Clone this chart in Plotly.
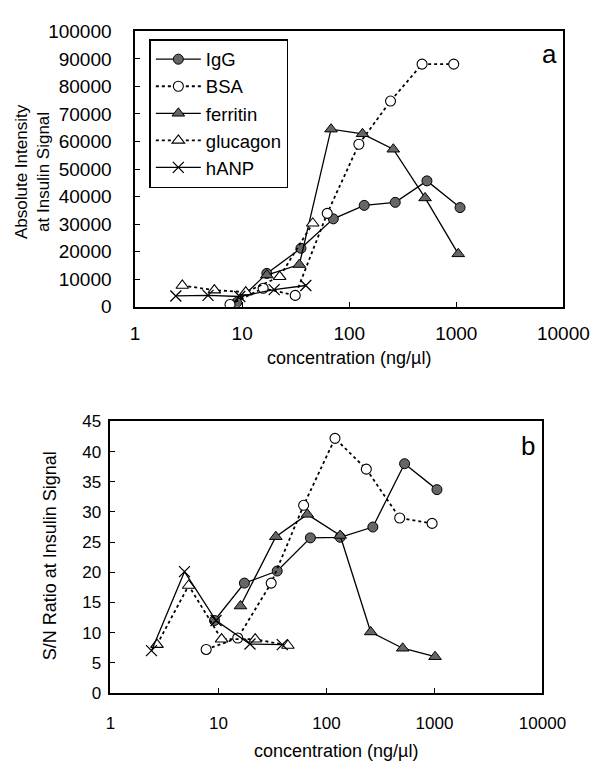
import plotly.graph_objects as go

# ---------------- data ----------------
# panel a: absolute intensity at insulin signal
igg_conc_a = [8.9, 17, 35.4, 71, 138, 269, 532, 1084]
igg_int_a = [1500, 12100, 21200, 31900, 36800, 37900, 45700, 36000]
bsa_conc_a = [7.7, 15.7, 31.3, 62.3, 123, 243, 479, 946]
bsa_int_a = [800, 6700, 4100, 33900, 59000, 74700, 88100, 88100]
fer_conc_a = [17, 34.2, 67.6, 133, 258, 511, 1043]
fer_int_a = [11500, 15300, 64500, 62800, 57200, 39500, 19200]
glu_conc_a = [2.76, 5.5, 10.8, 22.4, 45.6]
glu_int_a = [7700, 6000, 5300, 10900, 30300]
anp_conc_a = [2.4, 4.8, 9.5, 19.9, 39.3]
anp_int_a = [3900, 4100, 3700, 6200, 7700]

# panel b: S/N ratio at insulin signal
igg_conc_b = [9.2, 17.4, 35, 71, 134, 269, 529, 1055]
igg_sn_b = [12, 18.2, 20.2, 25.7, 25.8, 27.5, 38, 33.7]
bsa_conc_b = [7.7, 15.1, 30.8, 61.5, 120, 234, 477, 951]
bsa_sn_b = [7.2, 9.1, 18.2, 31.1, 42.2, 37.1, 29, 28.1]
fer_conc_b = [16, 34, 66.6, 134, 257, 508, 1013]
fer_sn_b = [14.4, 25.9, 29.6, 26.1, 10.1, 7.4, 6.0]
glu_conc_b = [2.7, 5.3, 10.7, 21.9, 44]
glu_sn_b = [8.0, 17.8, 8.9, 8.9, 7.85]
anp_conc_b = [2.4, 4.85, 9.5, 19.6, 39]
anp_sn_b = [7.0, 20.1, 12, 8.1, 8.0]

series_names = ["IgG", "BSA", "ferritin", "glucagon", "hANP"]
x_tick_vals = [1, 10, 100, 1000, 10000]
x_tick_text = ["1", "10", "100", "1000", "10000"]
ya_ticks = list(range(0, 100001, 10000))
yb_ticks = list(range(0, 46, 5))

FONT = "Liberation Sans, Arial, Helvetica, sans-serif"
GRAY = "#666666"

styles = {
    "IgG": dict(line=dict(color="black", width=1.3, dash="solid"),
                marker=dict(symbol="circle", size=10, color=GRAY,
                            line=dict(color="black", width=1))),
    "BSA": dict(line=dict(color="black", width=1.8, dash="dot"),
                marker=dict(symbol="circle", size=10, color="white",
                            line=dict(color="black", width=1.1))),
    "ferritin": dict(line=dict(color="black", width=1.3, dash="solid"),
                     marker=dict(symbol="triangle-up", size=11, color=GRAY,
                                 line=dict(color="black", width=1))),
    "glucagon": dict(line=dict(color="black", width=1.8, dash="dot"),
                     marker=dict(symbol="triangle-up", size=11, color="white",
                                 line=dict(color="black", width=1.1))),
    "hANP": dict(line=dict(color="black", width=1.3, dash="solid"),
                 marker=dict(symbol="x-thin-open", size=11, color="black",
                             line=dict(color="black", width=1.3))),
}

panel_a = {
    "IgG": (igg_conc_a, igg_int_a),
    "BSA": (bsa_conc_a, bsa_int_a),
    "ferritin": (fer_conc_a, fer_int_a),
    "glucagon": (glu_conc_a, glu_int_a),
    "hANP": (anp_conc_a, anp_int_a),
}
panel_b = {
    "IgG": (igg_conc_b, igg_sn_b),
    "BSA": (bsa_conc_b, bsa_sn_b),
    "ferritin": (fer_conc_b, fer_sn_b),
    "glucagon": (glu_conc_b, glu_sn_b),
    "hANP": (anp_conc_b, anp_sn_b),
}

fig = go.Figure()
for name in series_names:
    xs, ys = panel_a[name]
    fig.add_trace(go.Scatter(x=xs, y=ys, mode="lines+markers", name=name,
                             legendgroup=name, xaxis="x", yaxis="y",
                             **styles[name]))
for name in series_names:
    xs, ys = panel_b[name]
    fig.add_trace(go.Scatter(x=xs, y=ys, mode="lines+markers", name=name,
                             legendgroup=name, showlegend=False,
                             xaxis="x2", yaxis="y2", **styles[name]))

W, H = 615, 771

def px_x(p):
    return p / W

def px_y(p):
    return 1 - p / H

axis_common = dict(showline=True, mirror=True, linecolor="black", linewidth=1.5,
                   ticks="inside", ticklen=5, tickcolor="black", tickwidth=1,
                   showgrid=False, zeroline=False)

fig.update_layout(
    width=W, height=H, autosize=False,
    margin=dict(l=0, r=0, t=0, b=0),
    paper_bgcolor="white", plot_bgcolor="white",
    font=dict(family=FONT, color="black"),
    xaxis=dict(type="log", range=[0, 4], domain=[px_x(137), px_x(588)],
               anchor="y", tickvals=x_tick_vals, ticktext=x_tick_text,
               tickfont=dict(size=19), ticklabelstandoff=9, **axis_common),
    yaxis=dict(range=[0, 100000], domain=[px_y(305), px_y(22)], anchor="x",
               tickvals=ya_ticks, tickformat="d", tickfont=dict(size=19),
               ticklabelstandoff=18, **axis_common),
    xaxis2=dict(type="log", range=[0, 4], domain=[px_x(111), px_x(566)],
                anchor="y2", tickvals=x_tick_vals, ticktext=x_tick_text,
                tickfont=dict(size=17), ticklabelstandoff=14, **axis_common),
    yaxis2=dict(range=[0, 45], domain=[px_y(702), px_y(423)], anchor="x2",
                tickvals=yb_ticks, tickfont=dict(size=17),
                ticklabelstandoff=4, **axis_common),
    legend=dict(x=px_x(152), y=px_y(30), xanchor="left", yanchor="top",
                bgcolor="white", bordercolor="black", borderwidth=1.5,
                font=dict(size=18.5, family=FONT), itemwidth=45,
                tracegroupgap=0),
    showlegend=True,
)

annotations = [
    dict(text="Absolute Intensity<br>at Insulin Signal", x=px_x(29), y=px_y(166),
         textangle=-90, font=dict(size=17)),
    dict(text="concentration (ng/\u00b5l)", x=px_x(362), y=px_y(358),
         font=dict(size=18)),
    dict(text="a", x=px_x(573), y=px_y(45), font=dict(size=26)),
    dict(text="S/N Ratio at Insulin Signal", x=px_x(47), y=px_y(561),
         textangle=-90, font=dict(size=18)),
    dict(text="concentration (ng/\u00b5l)", x=px_x(349), y=px_y(762),
         font=dict(size=18)),
    dict(text="b", x=px_x(551), y=px_y(448), font=dict(size=26)),
]
for a in annotations:
    a.update(xref="paper", yref="paper", showarrow=False,
             xanchor="center", yanchor="middle")
fig.update_layout(annotations=annotations)

fig.write_html("out.html", config={"displayModeBar": False},
               post_script="document.body.style.margin='0';")
